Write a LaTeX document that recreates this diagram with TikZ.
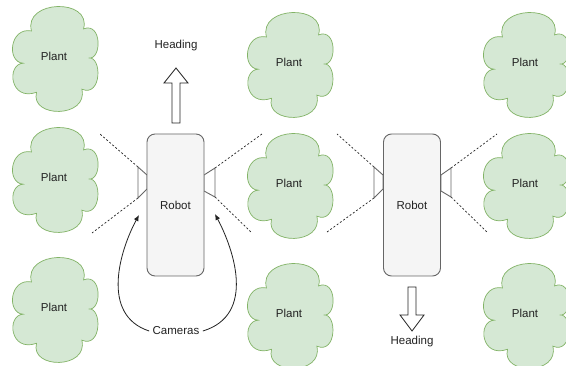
\documentclass[tikz,border=0pt]{standalone}
\usepackage{fontspec}
\setmainfont{Liberation Sans}
\usetikzlibrary{arrows.meta}
\definecolor{plantfill}{HTML}{D5E8D4}
\definecolor{plantline}{HTML}{82B366}
\definecolor{robotfill}{HTML}{F5F5F5}
\definecolor{robotline}{HTML}{666666}
\definecolor{inkc}{HTML}{222222}
\newcommand\plantcloud[3]{%
  \begin{scope}[shift={(#2-42,#3-52)},x=84pt,y=-104pt]
    \path[cloudshape] (0.22,0.24)
      .. controls (0.12,-0.06) and (0.94,-0.08) .. (0.84,0.22)
      .. controls (1.06,0.15) and (1.06,0.52) .. (0.9,0.5)
      .. controls (1.06,0.48) and (1.06,0.88) .. (0.82,0.8)
      .. controls (0.9,1.08) and (0.2,1.08) .. (0.28,0.83)
      .. controls (-0.04,0.92) and (-0.08,0.56) .. (0.12,0.55)
      .. controls (-0.08,0.54) and (-0.04,0.2) .. (0.22,0.24) -- cycle;
  \end{scope}
  \node (#1) at (#2-1,#3-2) {Plant};}
\begin{document}
\begin{tikzpicture}[x=1pt,y=-1pt,
  every node/.style={font=\fontsize{11.5}{13}\selectfont, text=inkc},
  cloudshape/.style={draw=plantline, fill=plantfill, line width=0.7pt},
  robotbox/.style={draw=robotline, fill=robotfill, rounded corners=8pt, minimum width=57pt, minimum height=142pt, line width=0.9pt},
  cam/.style={draw=robotline, fill=white, line width=0.9pt},
  fov/.style={draw=inkc, dash pattern=on 2pt off 2pt, line width=0.7pt},
  blockarrow/.style={draw=inkc, fill=white, line width=0.8pt, line join=miter},
  pointer/.style={draw=inkc, line width=0.8pt, -{Latex[length=6pt,width=5pt]}}]
\useasboundingbox (0,0) rectangle (566,366);
\fill[white] (0,0) rectangle (566,366);
% plants
\plantcloud{p11}{55}{58}
\plantcloud{p12}{55}{179}
\plantcloud{p13}{55}{309}
\plantcloud{p21}{290}{64}
\plantcloud{p22}{290}{185}
\plantcloud{p23}{290}{315}
\plantcloud{p31}{526}{64}
\plantcloud{p32}{526}{185}
\plantcloud{p33}{526}{315}
% fields of view
\draw[fov] (138,167) -- (100,134);
\draw[fov] (138,198) -- (92,233);
\draw[fov] (215,168) -- (262,134);
\draw[fov] (215,197) -- (252,233);
\draw[fov] (374,167) -- (337,134);
\draw[fov] (374,198) -- (327,232);
\draw[fov] (451,168) -- (497,134);
\draw[fov] (451,197) -- (487,232);
% cameras
\draw[cam] (147,175) -- (138,167) -- (138,198) -- (147,189) -- cycle;
\draw[cam] (204,175) -- (215,168) -- (215,197) -- (204,191) -- cycle;
\draw[cam] (383,175) -- (374,167) -- (374,198) -- (383,189) -- cycle;
\draw[cam] (441,175) -- (451,168) -- (451,197) -- (441,191) -- cycle;
% robots
\node[robotbox] (robot1) at (175.5,205) {Robot};
\node[robotbox] (robot2) at (412,205) {Robot};
% heading arrows
\draw[blockarrow] (172,123) -- (172,83) -- (164,83) -- (176,68) -- (188,83) -- (180,83) -- (180,123) -- cycle;
\node (head1) at (176,46) {Heading};
\draw[blockarrow] (408,287) -- (408,315) -- (400,315) -- (412,331) -- (424,315) -- (416,315) -- (416,287) -- cycle;
\node (head2) at (412,342) {Heading};
% cameras label
\node (cams) at (176,331) {Cameras};
\coordinate (camLtip) at (139,215);
\coordinate (camRtip) at (215,214);
\draw[pointer] (cams.west) .. controls (100,315) and (120,250) .. (camLtip);
\draw[pointer] (cams.east) .. controls (256,315) and (234,250) .. (camRtip);
\end{tikzpicture}
\end{document}
